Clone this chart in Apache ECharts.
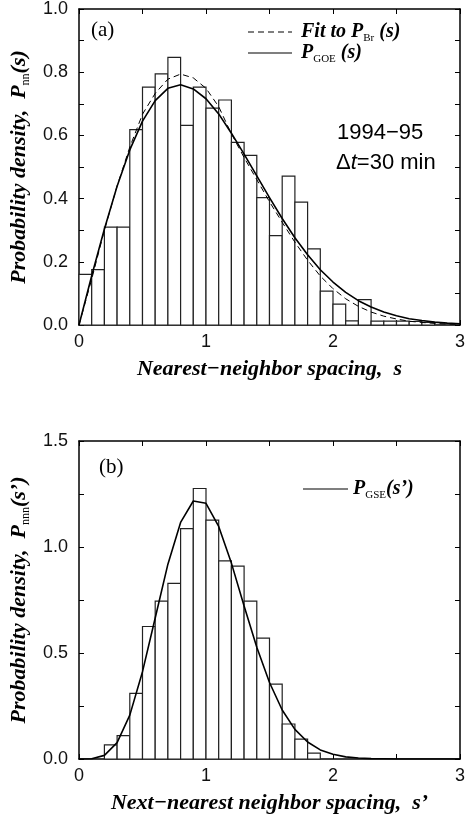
<!DOCTYPE html>
<html>
<head>
<meta charset="utf-8">
<script src="https://cdn.jsdelivr.net/npm/echarts@6/dist/echarts.min.js"></script>
<style>
  html, body { margin: 0; padding: 0; background: #fff; }
  #main { width: 468px; height: 818px; }
</style>
</head>
<body>
<div id="main"></div>
<script type="text/javascript">
// histogram (a): nearest-neighbour spacings, bins of width 0.1
var binWidth = 0.1;
var nnBinLeft = [0, 0.1, 0.2, 0.3, 0.4, 0.5, 0.6, 0.7, 0.8, 0.9, 1.0, 1.1, 1.2, 1.3,
                 1.4, 1.5, 1.6, 1.7, 1.8, 1.9, 2.0, 2.1, 2.2, 2.3, 2.4, 2.5, 2.6, 2.7];
var nnHeight = [0.160, 0.175, 0.310, 0.310, 0.618, 0.753, 0.795, 0.847, 0.632, 0.753,
                0.686, 0.712, 0.578, 0.537, 0.403, 0.283, 0.471, 0.389, 0.241, 0.107,
                0.066, 0.013, 0.080, 0.012, 0.012, 0.012, 0.011, 0.008];

// histogram (b): next-nearest-neighbour spacings
var nnnBinLeft = [0.2, 0.3, 0.4, 0.5, 0.6, 0.7, 0.8, 0.9, 1.0, 1.1, 1.2, 1.3, 1.4,
                  1.5, 1.6, 1.7, 1.8];
var nnnHeight = [0.067, 0.110, 0.310, 0.625, 0.745, 0.828, 1.087, 1.276, 1.127, 0.935,
                 0.910, 0.745, 0.570, 0.353, 0.165, 0.094, 0.028];

var sGrid = [0, 0.1, 0.2, 0.3, 0.4, 0.5, 0.6, 0.7, 0.8, 0.9, 1.0, 1.1, 1.2, 1.3, 1.4, 1.5,
             1.6, 1.7, 1.8, 1.9, 2.0, 2.1, 2.2, 2.3, 2.4, 2.5, 2.6, 2.7, 2.8, 2.9, 3.0];
var pGOE = [0, 0.156, 0.304, 0.439, 0.554, 0.645, 0.710, 0.749, 0.760, 0.747, 0.716,
            0.668, 0.607, 0.541, 0.472, 0.403, 0.337, 0.276, 0.222, 0.175, 0.136,
            0.103, 0.077, 0.057, 0.041, 0.029, 0.020, 0.014, 0.009, 0.006, 0.004];
var pBrody = [0, 0.145, 0.300, 0.440, 0.563, 0.667, 0.733, 0.778, 0.794, 0.782, 0.749,
              0.691, 0.605, 0.530, 0.460, 0.390, 0.325, 0.262, 0.205, 0.155, 0.115,
              0.083, 0.059, 0.041, 0.028, 0.019, 0.012, 0.008, 0.005, 0.003, 0.002];
var pGSE = [0, 0.001, 0.017, 0.077, 0.207, 0.412, 0.665, 0.919, 1.116, 1.217, 1.206,
            1.097, 0.924, 0.722, 0.527, 0.361, 0.231, 0.140, 0.080, 0.043, 0.022,
            0.010, 0.005, 0.002, 0.001, 0, 0, 0, 0, 0, 0];

var xTicks = [0, 1, 2, 3];

var serif = 'Liberation Serif';
var sans = 'Liberation Sans';

// legend keys: a plain bar for solid, short bars for the dashed one
var solidKey = 'path://M0,0h44v1h-44z';
var dashedKey = 'path://M0,0h6v1h-6z M10,0h6v1h-6z M20,0h6v1h-6z M30,0h6v1h-6z M40,0h4v1h-4z';

function pairs(xs, ys) {
  return xs.map(function (x, i) { return [x, ys[i]]; });
}
function bins(left, h) {
  return left.map(function (l, i) { return [l, l + binWidth, h[i]]; });
}
function histItem(params, api) {
  var p0 = api.coord([api.value(0), api.value(2)]);
  var p1 = api.coord([api.value(1), 0]);
  return {
    type: 'rect',
    shape: { x: p0[0], y: p0[1], width: p1[0] - p0[0], height: p1[1] - p0[1] },
    style: { fill: '#fff', stroke: '#222', lineWidth: 1.2 }
  };
}

function richFor(size, sub) {
  return {
    t: { fontFamily: serif, fontStyle: 'italic', fontWeight: 'bold', fontSize: size, color: '#000' },
    s: { fontFamily: serif, fontStyle: 'normal', fontWeight: 'normal', fontSize: sub, color: '#000',
         verticalAlign: 'bottom', lineHeight: size + 4 }
  };
}
var titleRich = richFor(22, 12);
var legendRich = richFor(20, 11);

function xAxisCfg(grid, bottom, name) {
  return {
    type: 'value', gridIndex: grid, position: bottom ? 'bottom' : 'top',
    min: 0, max: 3, interval: 0.5,
    axisLine: { onZero: false, lineStyle: { color: '#000', width: 1.5 } },
    axisTick: { inside: true, length: 5, lineStyle: { color: '#000', width: 1 } },
    axisLabel: {
      show: bottom, margin: 8, fontFamily: sans, fontSize: 18, color: '#111',
      formatter: function (v) { return xTicks.indexOf(v) >= 0 ? String(v) : ''; }
    },
    splitLine: { show: false },
    name: bottom ? name : '', nameLocation: 'middle', nameGap: 33,
    nameTextStyle: { fontFamily: serif, fontStyle: 'italic', fontWeight: 'bold', fontSize: 22, color: '#000', rich: titleRich }
  };
}
function yAxisCfg(grid, left, max, step, labelStep, name) {
  return {
    type: 'value', gridIndex: grid, position: left ? 'left' : 'right',
    min: 0, max: max, interval: step,
    axisLine: { onZero: false, lineStyle: { color: '#000', width: 1.5 } },
    axisTick: { inside: true, length: 5, lineStyle: { color: '#000', width: 1 } },
    axisLabel: {
      show: left, margin: 11, fontFamily: sans, fontSize: 18, color: '#111',
      formatter: function (v) {
        var k = Math.round(v / labelStep * 1000) / 1000;
        return Math.abs(k - Math.round(k)) < 1e-6 ? v.toFixed(1) : '';
      }
    },
    splitLine: { show: false },
    name: left ? name : '', nameLocation: 'middle', nameGap: 47, nameRotate: 90,
    nameTextStyle: { fontFamily: serif, fontStyle: 'italic', fontWeight: 'bold', fontSize: 22, color: '#000', rich: titleRich }
  };
}

var chart = echarts.init(document.getElementById('main'), null, { renderer: 'canvas' });

chart.setOption({
  animation: false,
  backgroundColor: '#fff',
  grid: [
    { left: 79, top: 7, width: 384, height: 318 },
    { left: 79, top: 441, width: 384, height: 318 }
  ],
  xAxis: [
    xAxisCfg(0, true, 'Nearest\u2212neighbor spacing,  s'),
    xAxisCfg(0, false, ''),
    xAxisCfg(1, true, 'Next\u2212nearest neighbor spacing,  s\u2019'),
    xAxisCfg(1, false, '')
  ],
  yAxis: [
    yAxisCfg(0, true, 1.0, 0.1, 0.2, '{t|Probability density,  P}{s|nn}{t|(s)}'),
    yAxisCfg(0, false, 1.0, 0.1, 0.2, ''),
    yAxisCfg(1, true, 1.5, 0.25, 0.5, '{t|Probability density,  P}{s|nnn}{t|(s\u2019)}'),
    yAxisCfg(1, false, 1.5, 0.25, 0.5, '')
  ],
  legend: [
    {
      data: [
        { name: 'Fit to P_Br (s)', icon: dashedKey },
        { name: 'P_GOE (s)', icon: solidKey }
      ],
      orient: 'vertical', left: 243, top: 17,
      itemWidth: 44, itemHeight: 1.3, itemGap: -1, selectedMode: false,
      formatter: function (n) {
        return n === 'P_GOE (s)' ? '{t|P}{s|GOE}{t| (s)}' : '{t|Fit to P}{s|Br}{t| (s)}';
      },
      textStyle: { rich: legendRich, padding: [0, 0, 0, 4] }
    },
    {
      data: [{ name: 'P_GSE(s\u2019)', icon: solidKey }],
      left: 298, top: 474,
      itemWidth: 45, itemHeight: 1.5, selectedMode: false,
      formatter: function () { return '{t|P}{s|GSE}{t|(s\u2019)}'; },
      textStyle: { rich: legendRich }
    }
  ],
  graphic: [
    { type: 'text', left: 91, top: 20, style: { text: '(a)', fontFamily: serif, fontSize: 21, fill: '#000' } },
    { type: 'text', left: 99, top: 457, style: { text: '(b)', fontFamily: serif, fontSize: 21, fill: '#000' } },
    { type: 'text', left: 337, top: 122, style: { text: '1994\u221295', fontFamily: sans, fontSize: 22, fill: '#000' } },
    {
      type: 'text', left: 336, top: 152,
      style: {
        text: '{n|\u0394}{i|t}{n|=30 min}',
        rich: {
          n: { fontFamily: sans, fontSize: 22, fill: '#000' },
          i: { fontFamily: sans, fontSize: 22, fontStyle: 'italic', fill: '#000' }
        }
      }
    }
  ],
  series: [
    {
      type: 'custom', name: 'hist nn', xAxisIndex: 0, yAxisIndex: 0,
      renderItem: histItem, encode: { x: [0, 1], y: 2 },
      data: bins(nnBinLeft, nnHeight), z: 1
    },
    {
      type: 'line', name: 'Fit to P_Br (s)', xAxisIndex: 0, yAxisIndex: 0,
      data: pairs(sGrid, pBrody), showSymbol: false, symbol: 'none', z: 3,
      lineStyle: { color: '#000', width: 1, type: [6, 4] }, itemStyle: { color: '#000' }
    },
    {
      type: 'line', name: 'P_GOE (s)', xAxisIndex: 0, yAxisIndex: 0,
      data: pairs(sGrid, pGOE), showSymbol: false, symbol: 'none', z: 3,
      lineStyle: { color: '#000', width: 1.6 }, itemStyle: { color: '#000' }
    },
    {
      type: 'custom', name: 'hist nnn', xAxisIndex: 2, yAxisIndex: 2,
      renderItem: histItem, encode: { x: [0, 1], y: 2 },
      data: bins(nnnBinLeft, nnnHeight), z: 1
    },
    {
      type: 'line', name: 'P_GSE(s\u2019)', xAxisIndex: 2, yAxisIndex: 2,
      data: pairs(sGrid, pGSE), showSymbol: false, symbol: 'none', z: 3,
      lineStyle: { color: '#000', width: 1.6 }, itemStyle: { color: '#000' }
    }
  ]
});
</script>
</body>
</html>
